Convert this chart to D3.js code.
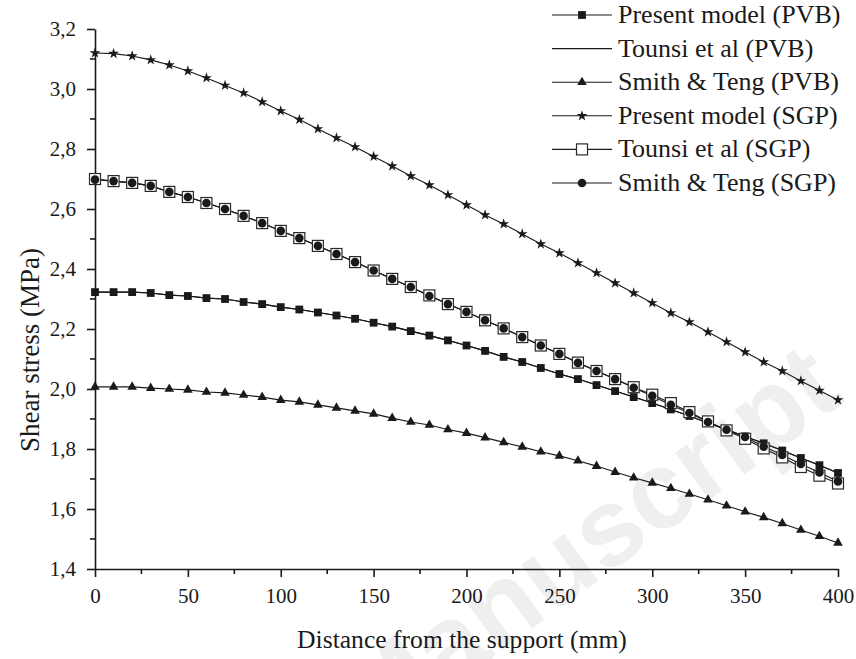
<!DOCTYPE html>
<html lang="en">
<head>
    <meta charset="UTF-8">
    <title>Shear stress vs distance</title>
    <script src="https://d3js.org/d3.v7.min.js"></script>
    <style>
        body { margin: 0; background: #fff; }
        .serif { font-family: "Liberation Serif", "DejaVu Serif", serif; fill: #1a1a1a; }
        .axis text { font-family: "Liberation Serif", "DejaVu Serif", serif; font-size: 21px; }
        .axis path, .axis line { stroke: #1a1a1a; stroke-width: 1.6px; }
        .curve { fill: none; stroke: #1a1a1a; stroke-width: 1.1px; }
        .watermark { font-family: "Liberation Sans", Arial, sans-serif; font-weight: bold; fill: #efefef; }
    </style>
</head>
<body>

<svg id="chart" width="856" height="659"></svg>

<script>
    // Distance from the support (mm), one point every 10 mm
    const distances = d3.range(0, 401, 10);

    const presentPVB = [2.323, 2.323, 2.323, 2.320, 2.313, 2.310, 2.303, 2.300, 2.290, 2.283,
        2.273, 2.265, 2.255, 2.245, 2.234, 2.221, 2.208, 2.193, 2.178, 2.162,
        2.145, 2.127, 2.107, 2.090, 2.070, 2.050, 2.033, 2.013, 1.993, 1.973,
        1.953, 1.932, 1.910, 1.887, 1.865, 1.842, 1.819, 1.795, 1.770, 1.746, 1.720];
    const tounsiPVB = presentPVB.slice();
    const smithPVB = [2.007, 2.007, 2.007, 2.003, 2.000, 1.997, 1.990, 1.987, 1.980, 1.973,
        1.963, 1.957, 1.947, 1.937, 1.927, 1.917, 1.903, 1.890, 1.880, 1.865,
        1.853, 1.838, 1.822, 1.807, 1.791, 1.777, 1.761, 1.743, 1.723, 1.704,
        1.687, 1.669, 1.650, 1.631, 1.611, 1.591, 1.572, 1.552, 1.530, 1.509, 1.487];
    const presentSGP = [3.120, 3.118, 3.110, 3.097, 3.080, 3.060, 3.037, 3.012, 2.987, 2.957,
        2.927, 2.898, 2.867, 2.837, 2.807, 2.775, 2.743, 2.710, 2.680, 2.647,
        2.613, 2.580, 2.550, 2.517, 2.483, 2.453, 2.420, 2.387, 2.353, 2.320,
        2.287, 2.253, 2.223, 2.190, 2.157, 2.123, 2.090, 2.060, 2.027, 1.995, 1.963];
    const tounsiSGP = [2.700, 2.693, 2.687, 2.677, 2.657, 2.640, 2.620, 2.600, 2.577, 2.553,
        2.527, 2.503, 2.477, 2.450, 2.423, 2.395, 2.367, 2.340, 2.312, 2.283,
        2.257, 2.229, 2.202, 2.173, 2.145, 2.117, 2.088, 2.060, 2.033, 2.006,
        1.981, 1.953, 1.923, 1.892, 1.862, 1.834, 1.802, 1.772, 1.740, 1.711, 1.685];
    const smithSGP = [2.698, 2.693, 2.687, 2.677, 2.657, 2.640, 2.620, 2.600, 2.577, 2.553,
        2.527, 2.503, 2.477, 2.450, 2.423, 2.395, 2.367, 2.340, 2.310, 2.283,
        2.257, 2.229, 2.202, 2.173, 2.145, 2.117, 2.087, 2.060, 2.033, 2.004,
        1.977, 1.947, 1.920, 1.890, 1.864, 1.840, 1.808, 1.780, 1.750, 1.722, 1.692];

    const xTicks = d3.range(0, 401, 50);
    const yTicks = [1.4, 1.6, 1.8, 2.0, 2.2, 2.4, 2.6, 2.8, 3.0, 3.2];

    const series = [
        { name: "Present model (PVB)", values: presentPVB, marker: "square" },
        { name: "Tounsi et al (PVB)", values: tounsiPVB, marker: "none" },
        { name: "Smith & Teng (PVB)", values: smithPVB, marker: "triangle" },
        { name: "Present model (SGP)", values: presentSGP, marker: "star" },
        { name: "Tounsi et al (SGP)", values: tounsiSGP, marker: "openSquare" },
        { name: "Smith & Teng (SGP)", values: smithSGP, marker: "circle" }
    ];

    const svg = d3.select("#chart");
    const x = d3.scaleLinear().domain([0, 400]).range([95, 838]);
    const y = d3.scaleLinear().domain([1.4, 3.2]).range([569, 29]);

    // faint watermark behind the plot
    svg.append("text")
        .attr("class", "watermark")
        .attr("transform", "translate(372,745) rotate(-36)")
        .attr("font-size", 110)
        .text("Manuscript");

    // minor ticks
    const minorX = d3.range(25, 400, 50);
    const minorY = d3.range(1.5, 3.2, 0.2);
    svg.append("g").selectAll("line").data(minorX).join("line")
        .attr("x1", d => x(d)).attr("x2", d => x(d))
        .attr("y1", 569).attr("y2", 574)
        .attr("stroke", "#1a1a1a").attr("stroke-width", 1.6);
    svg.append("g").selectAll("line").data(minorY).join("line")
        .attr("x1", 90).attr("x2", 95)
        .attr("y1", d => y(d)).attr("y2", d => y(d))
        .attr("stroke", "#1a1a1a").attr("stroke-width", 1.6);

    svg.append("g")
        .attr("class", "axis")
        .attr("transform", "translate(0,569)")
        .call(d3.axisBottom(x).tickValues(xTicks).tickSize(8).tickPadding(11).tickSizeOuter(0).tickFormat(d3.format("d")));

    svg.append("g")
        .attr("class", "axis")
        .attr("transform", "translate(95,0)")
        .call(d3.axisLeft(y).tickValues(yTicks).tickSize(8).tickPadding(11).tickSizeOuter(0)
            .tickFormat(d => d3.format(".1f")(d).replace(".", ",")));

    svg.selectAll(".axis text").attr("fill", "#1a1a1a");

    // axis titles
    svg.append("text")
        .attr("class", "serif")
        .attr("x", 462).attr("y", 648)
        .attr("text-anchor", "middle")
        .attr("font-size", 25.6)
        .text("Distance from the support (mm)");

    svg.append("text")
        .attr("class", "serif")
        .attr("transform", "translate(39,350) rotate(-90)")
        .attr("text-anchor", "middle")
        .attr("font-size", 27)
        .text("Shear stress (MPa)");

    const line = d3.line()
        .x((d, i) => x(distances[i]))
        .y(d => y(d));

    const star = d3.symbol().type(d3.symbolStar).size(36);
    const tri = d3.symbol().type(d3.symbolTriangle).size(40);

    function drawMarker(g, type, cx, cy) {
        if (type === "square") {
            g.append("rect").attr("x", cx - 3.9).attr("y", cy - 3.9)
                .attr("width", 7.8).attr("height", 7.8).attr("fill", "#1a1a1a");
        } else if (type === "triangle") {
            g.append("path").attr("d", tri).attr("transform", `translate(${cx},${cy})`)
                .attr("fill", "#1a1a1a");
        } else if (type === "star") {
            g.append("path").attr("d", star).attr("transform", `translate(${cx},${cy})`)
                .attr("fill", "#1a1a1a");
        } else if (type === "openSquare") {
            g.append("rect").attr("x", cx - 5.5).attr("y", cy - 5.5)
                .attr("width", 11).attr("height", 11)
                .attr("fill", "#fff").attr("stroke", "#2a2a2a").attr("stroke-width", 1.2);
        } else if (type === "circle") {
            g.append("circle").attr("cx", cx).attr("cy", cy).attr("r", 4.3)
                .attr("fill", "#1a1a1a");
        }
    }

    // lines first, then markers
    series.forEach(s => {
        svg.append("path").attr("class", "curve").attr("d", line(s.values));
    });
    series.forEach(s => {
        const g = svg.append("g");
        s.values.forEach((v, i) => drawMarker(g, s.marker, x(distances[i]), y(v)));
    });

    // legend
    const legend = svg.append("g");
    series.forEach((s, i) => {
        const ly = 15 + i * 33.6;
        legend.append("line")
            .attr("x1", 552).attr("x2", 612)
            .attr("y1", ly).attr("y2", ly)
            .attr("stroke", "#1a1a1a").attr("stroke-width", 1.1);
        drawMarker(legend, s.marker, 582, ly);
        legend.append("text")
            .attr("class", "serif")
            .attr("x", 618).attr("y", ly + 8)
            .attr("font-size", 26)
            .text(s.name);
    });
</script>

</body>
</html>
